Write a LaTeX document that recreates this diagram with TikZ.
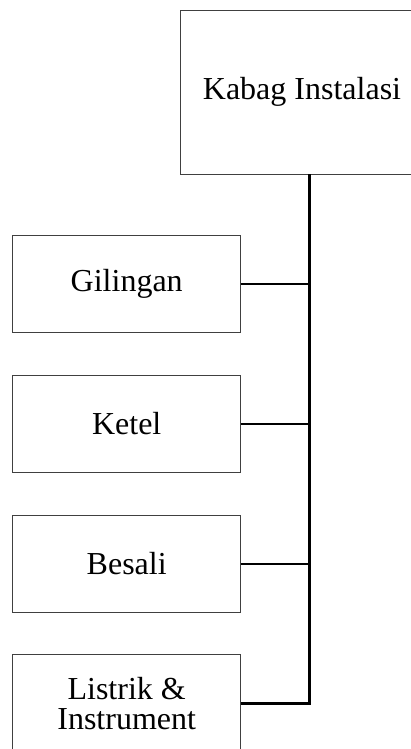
\documentclass[tikz,border=0pt]{standalone}
\usepackage{fontspec}
\setmainfont{Liberation Serif}
\begin{document}
\begin{tikzpicture}[x=1pt,y=-1pt,
  box/.style={draw=black!75,line width=0.9pt,rectangle,inner sep=0pt,align=center,
    font=\fontsize{32}{30}\selectfont},
  unit/.style={box,minimum width=228pt,minimum height=97.5pt},
  conn/.style={draw=black,line width=2.4pt}]
\useasboundingbox (0,0) rectangle (411,749);
\clip (0,0) rectangle (411,749);
\node[box,minimum width=244pt,minimum height=164pt] (top) at (302,92) {Kabag Instalasi};
\node[unit] (g) at (126.7,283.8) {Gilingan};
\node[unit] (k) at (126.7,423.8) {Ketel};
\node[unit] (b) at (126.7,563.8) {Besali};
\node[unit] (l) at (126.7,703.5) {Listrik \&\\Instrument};
\coordinate (t1) at (309.3,174);
\coordinate (t2) at (309.3,705);
\draw[conn] (t1) -- (t2);
\draw[conn] (g.east) -- (g.east -| t1);
\draw[conn] (k.east) -- (k.east -| t1);
\draw[conn] (b.east) -- (b.east -| t1);
\draw[conn] (l.east) -- (l.east -| t1);
\end{tikzpicture}
\end{document}
